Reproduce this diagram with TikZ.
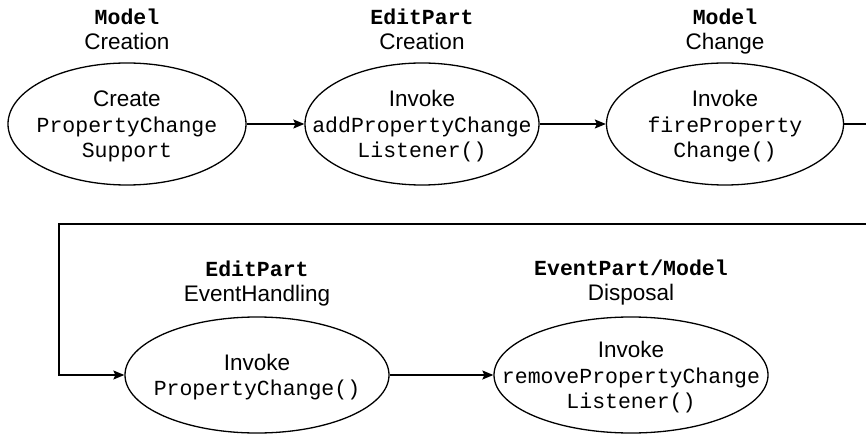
\documentclass[tikz,border=0pt]{standalone}
\usepackage{fontspec}
\setmainfont{Liberation Sans}
\setsansfont{Liberation Sans}
\setmonofont{Liberation Mono}
\usetikzlibrary{shapes.geometric,arrows.meta}
\newcommand{\codetxt}[1]{{\fontsize{21.5}{25.5}\selectfont\ttfamily #1}}
\tikzset{
  stage/.style={ellipse, draw, line width=1.3pt, inner sep=0pt},
  stagetext/.style={align=center, inner sep=0pt, font=\fontsize{22.5}{25.5}\selectfont},
  title/.style={align=center, inner sep=0pt, font=\fontsize{22.5}{25}\selectfont},
  flow/.style={line width=1.3pt, -{Stealth[length=11pt,width=9pt,inset=2pt]}},
}
\begin{document}
\begin{tikzpicture}[x=1pt,y=-1pt]
\useasboundingbox (0,0) rectangle (866,435);
\clip (0,0) rectangle (866,435);

\node[title] (t1) at (127,32) {\strut\textbf{\codetxt{Model}}\\Creation\strut};
\node[title] (t2) at (422,32) {\strut\textbf{\codetxt{EditPart}}\\Creation\strut};
\node[title] (t3) at (725,32) {\strut\textbf{\codetxt{Model}}\\Change\strut};
\node[title] (t4) at (257,284) {\strut\textbf{\codetxt{EditPart}}\\EventHandling\strut};
\node[title] (t5) at (631,283) {\strut\textbf{\codetxt{EventPart/Model}}\\Disposal\strut};

\node[stage, minimum width=238pt, minimum height=122pt] (e1) at (127,124) {};
\node[stage, minimum width=234pt, minimum height=122pt] (e2) at (422,124) {};
\node[stage, minimum width=237pt, minimum height=122pt] (e3) at (725,124) {};
\node[stage, minimum width=264pt, minimum height=116pt] (e4) at (257,375) {};
\node[stage, minimum width=274pt, minimum height=116pt] (e5) at (631,375) {};

\node[stagetext] (x1) at ([yshift=-3pt]e1.center) {\strut Create\\\codetxt{PropertyChange}\\\codetxt{Support}\strut};
\node[stagetext] (x2) at ([yshift=-3pt]e2.center) {\strut Invoke\\\codetxt{addPropertyChange}\\\codetxt{Listener()}\strut};
\node[stagetext] (x3) at ([yshift=-3pt]e3.center) {\strut Invoke\\\codetxt{fireProperty}\\\codetxt{Change()}\strut};
\node[stagetext] (x4) at ([yshift=-3pt]e4.center) {\strut Invoke\\\codetxt{PropertyChange()}\strut};
\node[stagetext] (x5) at ([yshift=-3pt]e5.center) {\strut Invoke\\\codetxt{removePropertyChange}\\\codetxt{Listener()}\strut};

\coordinate (r1) at (890,224);
\coordinate (l1) at (59,224);

\draw[flow] (e1) -- (e2);
\draw[flow] (e2) -- (e3);
\draw[flow] (e3.east) -| (r1) -- (l1) |- (e4.west);
\draw[flow] (e4) -- (e5);
\end{tikzpicture}
\end{document}
